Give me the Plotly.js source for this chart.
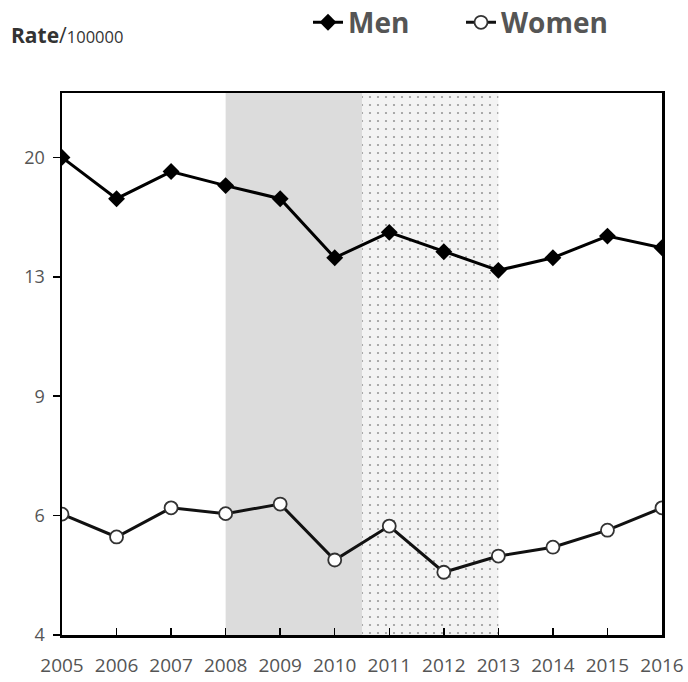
<!DOCTYPE html>
<html>
<head>
<meta charset="utf-8">
<script src="https://cdn.plot.ly/plotly-3.0.1.min.js"></script>
<style>html,body{margin:0;padding:0;background:#fff;}#chart{width:688px;height:682px;}</style>
</head>
<body>
<div id="chart"></div>
<script>
const years = [2005, 2006, 2007, 2008, 2009, 2010, 2011, 2012, 2013, 2014, 2015, 2016];
const men = [20.25, 17.6, 19.3, 18.4, 17.6, 14.4, 15.7, 14.7, 13.8, 14.4, 15.5, 14.9];
const women = [6.03, 5.58, 6.16, 6.04, 6.24, 5.16, 5.79, 4.95, 5.23, 5.39, 5.71, 6.16];
const yTickVals = [4, 6, 9, 13.5, 20.25];
const yTickText = ["4", "6", "9", "13", "20"];
const greyPeriod = [2008, 2010.5];
const dottedPeriod = [2010.5, 2013];
const yMin = 4, yMax = 25.2;

const traces = [
  {
    x: [dottedPeriod[0], dottedPeriod[1], dottedPeriod[1], dottedPeriod[0], dottedPeriod[0]],
    y: [yMin, yMin, yMax, yMax, yMin],
    mode: 'lines', fill: 'toself', line: {width: 0, color: 'rgba(0,0,0,0)'},
    fillcolor: '#f3f3f3',
    fillpattern: {shape: '.', size: 8, solidity: 0.06, fgcolor: '#999999', bgcolor: '#f3f3f3', fillmode: 'replace'},
    showlegend: false, hoverinfo: 'skip'
  },
  {
    x: years, y: men, name: 'Men', mode: 'lines+markers',
    line: {color: '#000', width: 3},
    marker: {symbol: 'diamond', size: 13, color: '#000'}
  },
  {
    x: years, y: women, name: 'Women', mode: 'lines+markers',
    line: {color: '#111', width: 3},
    marker: {symbol: 'circle', size: 13, color: '#fff', line: {color: '#333', width: 1.8}}
  }
];

const layout = {
  width: 688, height: 682,
  margin: {l: 62, r: 26, t: 93, b: 47, autoexpand: false},
  paper_bgcolor: '#fff', plot_bgcolor: '#fff',
  font: {family: 'Open Sans, sans-serif', color: '#555', size: 18},
  showlegend: true,
  legend: {
    orientation: 'h', x: 0.41, xanchor: 'left', y: 1.176, yanchor: 'top',
    font: {size: 28, color: '#555', family: 'Open Sans, sans-serif', weight: 'bold'},
    entrywidth: 108, entrywidthmode: 'pixels', tracegroupgap: 0, bgcolor: 'rgba(0,0,0,0)'
  },
  xaxis: {
    range: [2005, 2016], tickmode: 'array', tickvals: years,
    ticks: 'inside', ticklen: 7, tickwidth: 1.5, tickcolor: '#000',
    showline: true, linecolor: '#000', linewidth: 2.5, mirror: true,
    showgrid: false, zeroline: false, ticklabelstandoff: 12,
    tickfont: {size: 19, color: '#555'}
  },
  yaxis: {
    type: 'log', range: [Math.log10(yMin), Math.log10(yMax)],
    tickmode: 'array', tickvals: yTickVals, ticktext: yTickText,
    ticks: 'outside', ticklen: 7, tickwidth: 1.5, tickcolor: '#000',
    showline: true, linecolor: '#000', linewidth: 2.5, mirror: true,
    showgrid: false, zeroline: false, ticklabelstandoff: 4,
    tickfont: {size: 18, color: '#555'}
  },
  shapes: [
    {type: 'rect', xref: 'x', yref: 'paper', x0: greyPeriod[0], x1: greyPeriod[1], y0: 0, y1: 1,
     fillcolor: '#dcdcdc', line: {width: 0}, layer: 'below'}
  ],
  annotations: [
    {xref: 'paper', yref: 'paper', x: -0.088, y: 1.107, xanchor: 'left', yanchor: 'middle', showarrow: false,
     text: "<b>Rate</b>/<span style='font-size:16.5px'>100000</span>",
     font: {size: 21, color: '#333', family: 'Open Sans, sans-serif'}}
  ]
};

Plotly.newPlot('chart', traces, layout, {displayModeBar: false, staticPlot: true});
</script>
</body>
</html>
